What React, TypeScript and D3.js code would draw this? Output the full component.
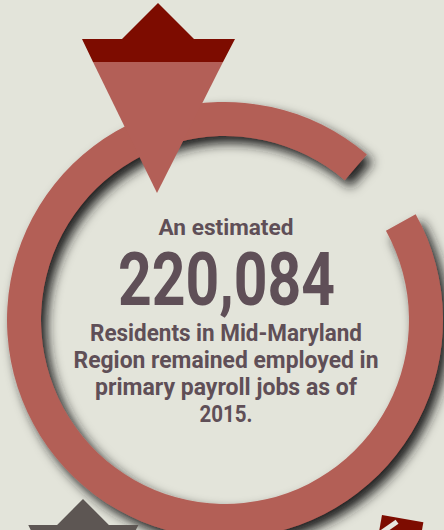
import * as d3 from 'd3';

// headline figure and caption
const leadText = ['An estimated'];
const figureValue = [220084];
const captionLines = [
  'Residents in Mid-Maryland',
  'Region remained employed in',
  'primary payroll jobs as of',
  '2015.',
];
// measured widths (px) of each caption line in the original
const captionWidths = [272, 305, 262, 53];

// ring: start/end angles in degrees (0 = 12 o'clock, clockwise)
const ringAngles = [61, 400.6];

const W = 444;
const H = 530;
const cx = 225;
const cy = 320;

const bg = '#e3e4da';
const ringRed = '#b35f57';
const darkRed = '#7d0c00';
const grey = '#5d5653';
const textColor = '#5f4f57';

// marker outline, in local units (peak at 0,0)
const crownPts: [number, number][] = [
  [-76, 36], [-36, 36], [0, 0], [36, 36], [77, 36], [65, 59], [-65, 59],
];
const tipPts: [number, number][] = [[-65, 59], [65, 59], [-1, 190]];

const App = () => {
  const toRad = d3.scaleLinear().domain([0, 360]).range([0, 2 * Math.PI]);
  const ring = d3.arc<any>()
    .innerRadius(184)
    .outerRadius(218)
    .startAngle(toRad(ringAngles[0]))
    .endAngle(toRad(ringAngles[1]))({});

  const poly = d3.line().curve(d3.curveLinearClosed);
  const fmt = d3.format(',');
  const font = 'Roboto, "Liberation Sans", Arial, sans-serif';

  return (
    <svg width={W} height={H} style={{ position: 'absolute', left: 0, top: 0 }}>
      <defs>
        <filter id="shadow" x="-20%" y="-20%" width="140%" height="140%">
          <feDropShadow dx="6" dy="7" stdDeviation="6" floodColor="#1c1c1c" floodOpacity="1" />
        </filter>
      </defs>
      <rect width={W} height={H} fill={bg} />

      <path d={ring ?? ''} transform={`translate(${cx},${cy})`} fill={ringRed} filter="url(#shadow)" />

      {/* top pointer */}
      <g transform="translate(158,3)">
        <path d={poly(tipPts) ?? ''} fill={ringRed} />
        <path d={poly(crownPts) ?? ''} fill={darkRed} />
      </g>

      {/* bottom-left grey marker */}
      <g transform="translate(83,499) scale(0.72)">
        <path d={poly(crownPts) ?? ''} fill={grey} />
        <path d={poly(tipPts) ?? ''} fill={grey} />
      </g>

      {/* bottom-right rotated marker */}
      <g transform="translate(382,515) rotate(10)">
        <rect x={0} y={0} width={42} height={40} fill={darkRed} />
        <line x1={16} y1={4} x2={2} y2={18} stroke="#e8e6de" strokeWidth={5} />
      </g>

      <g fontFamily={font} fontWeight="bold" fill={textColor} textAnchor="middle">
        <text x={226} y={234.5} fontSize={22} textLength={135} lengthAdjust="spacingAndGlyphs">
          {leadText[0]}
        </text>
        <text x={226.5} y={305} fontSize={74.5} textLength={217} lengthAdjust="spacingAndGlyphs">
          {fmt(figureValue[0])}
        </text>
        {captionLines.map((line, i) => (
          <text
            key={line}
            x={226}
            y={340.7 + i * 27}
            fontSize={24.5}
            textLength={captionWidths[i]}
            lengthAdjust="spacingAndGlyphs"
          >
            {line}
          </text>
        ))}
      </g>
    </svg>
  );
};

export default App;
